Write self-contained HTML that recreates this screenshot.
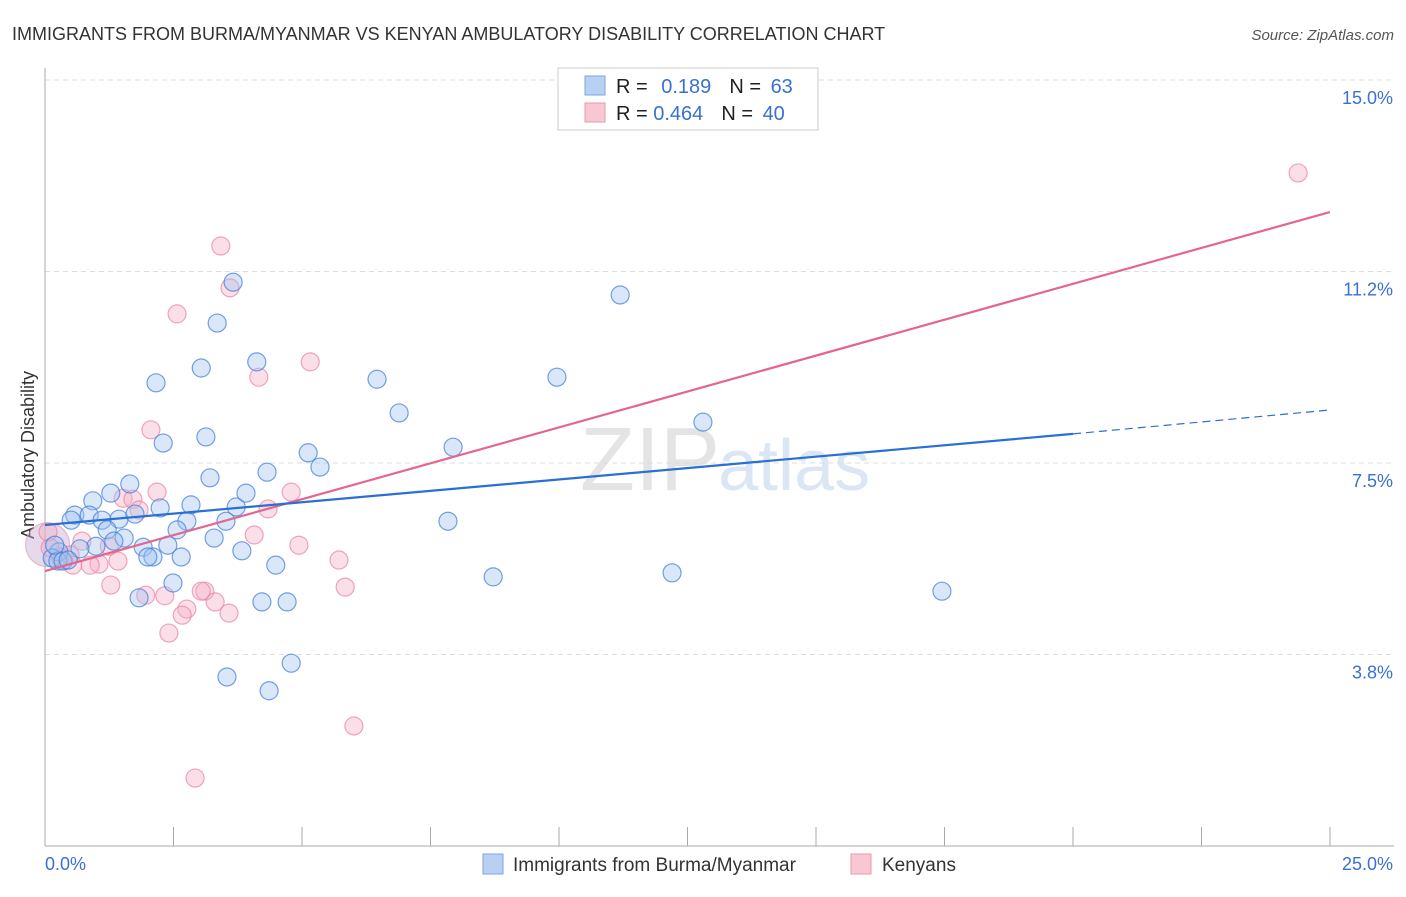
<!DOCTYPE html>
<html><head><meta charset="utf-8"><style>
body{margin:0;background:#fff;font-family:"Liberation Sans",sans-serif;}
svg text{font-family:"Liberation Sans",sans-serif;}
</style></head><body>
<svg id="chart" width="1406" height="892" xmlns="http://www.w3.org/2000/svg">
<text x="12" y="40" font-size="18" fill="#333">IMMIGRANTS FROM BURMA/MYANMAR VS KENYAN AMBULATORY DISABILITY CORRELATION CHART</text>
<text x="1394" y="40" font-size="15" fill="#555" font-style="italic" text-anchor="end">Source: ZipAtlas.com</text>
<text x="720" y="490" font-size="90" fill="#e4e4e4" text-anchor="end" font-family="Liberation Serif">ZIP</text>
<text x="718" y="490" font-size="72" fill="#dbe6f5">atlas</text>
<text transform="translate(34,455) rotate(-90)" font-size="18" fill="#333" text-anchor="middle">Ambulatory Disability</text>
<g id="grid"></g><g id="axes"></g><g id="pts"></g><g id="lines"></g>
<g>
<rect x="558" y="68" width="260" height="62" fill="#fff" stroke="#ccc"/>
<rect x="585" y="76" width="20" height="19" fill="#b8d1f3" stroke="#7ea6e0"/>
<rect x="585" y="103" width="20" height="19" fill="#f9c6d4" stroke="#e899b2"/>
<text x="616" y="93" font-size="20" fill="#222">R = <tspan fill="#3a70d4" dx="8">0.189</tspan><tspan fill="#222" dx="18">N = </tspan><tspan fill="#3a70d4" dx="4">63</tspan></text>
<text x="616" y="120" font-size="20" fill="#222">R = <tspan fill="#3a70d4">0.464</tspan><tspan fill="#222" dx="18">N = </tspan><tspan fill="#3a70d4" dx="4">40</tspan></text>
</g>
<g>
<rect x="483" y="854" width="20" height="20" fill="#b8d1f3" stroke="#7ea6e0"/>
<text x="513" y="871" font-size="19" fill="#333">Immigrants from Burma/Myanmar</text>
<rect x="851" y="854" width="20" height="20" fill="#f9c6d4" stroke="#e899b2"/>
<text x="882" y="871" font-size="19" fill="#333">Kenyans</text>
</g>
</svg>
<script>
const xTicks=[0,2.5,5,7.5,10,12.5,15,17.5,20,22.5,25];
const yTicks=[3.75,7.5,11.25,15];
const yTickLabels=["3.8%","7.5%","11.2%","15.0%"];
const blueX=[3.66,11.19,3.35,4.12,3.04,6.46,2.16,9.96,6.89,3.13,2.30,7.94,12.80,5.12,5.35,4.32,3.21,1.65,1.28,0.93,3.72,3.91,2.84,2.24,0.58,0.86,1.11,1.44,1.75,0.51,3.52,2.76,7.84,2.57,1.21,3.29,1.54,1.34,0.99,0.68,1.91,3.83,2.39,2.10,2.00,2.65,0.27,0.14,0.25,0.35,4.49,8.72,12.20,2.49,1.83,4.22,4.71,17.45,4.79,3.54,4.36,0.19,0.45];
const blueY=[11.04,10.79,10.24,9.48,9.36,9.14,9.07,9.18,8.48,8.01,7.89,7.81,8.30,7.70,7.42,7.32,7.21,7.09,6.91,6.76,6.64,6.91,6.68,6.62,6.48,6.48,6.38,6.40,6.50,6.38,6.36,6.36,6.36,6.19,6.19,6.03,6.03,5.97,5.87,5.82,5.85,5.78,5.89,5.66,5.66,5.66,5.76,5.64,5.58,5.58,5.50,5.27,5.35,5.15,4.86,4.78,4.78,4.99,3.58,3.31,3.04,5.89,5.60];
const pinkX=[24.38,3.42,3.60,2.57,5.16,4.16,2.06,2.18,4.79,1.52,1.71,1.83,4.34,4.07,0.72,4.94,1.25,5.72,1.42,1.05,0.54,0.88,0.37,0.06,1.28,5.84,1.96,2.33,3.11,3.04,3.31,2.76,2.67,3.58,2.41,6.01,2.92,0.29,0.10,0.49];
const pinkY=[13.18,11.75,10.93,10.42,9.48,9.18,8.15,6.93,6.93,6.81,6.79,6.58,6.60,6.09,5.97,5.89,5.87,5.60,5.58,5.52,5.50,5.50,5.60,6.15,5.11,5.07,4.91,4.90,4.99,4.99,4.78,4.64,4.52,4.56,4.17,2.35,1.33,5.66,5.84,5.70];
const blueLine=[[0,6.286],[20,8.07],[25,8.538]];
const pinkLine=[[0,5.385],[25,12.415]];
const NS="http://www.w3.org/2000/svg";
const X=v=>45+v/25*1285, Y=v=>846-v/15*766;
function mk(t,a,p){const e=document.createElementNS(NS,t);for(const k in a)e.setAttribute(k,a[k]);p.appendChild(e);return e;}
const grid=document.getElementById('grid'),axes=document.getElementById('axes'),pts=document.getElementById('pts'),lines=document.getElementById('lines');
yTicks.forEach((t,i)=>{
 const l=mk('line',{x1:45,x2:1394,y1:Y(t),y2:Y(t),stroke:'#ddd','stroke-dasharray':'5,4'},grid);
 
 
 const tx=mk('text',{x:1393,y:Y(t)+24,'font-size':18,fill:'#3a70d4','text-anchor':'end'},axes);
 tx.textContent=yTickLabels[i];
 
 
});
mk('line',{x1:45,x2:45,y1:68,y2:846,stroke:'#aaa'},axes);
mk('line',{x1:45,x2:1394,y1:846,y2:846,stroke:'#aaa'},axes);
xTicks.forEach(t=>{const l=mk('line',{x1:X(t),x2:X(t),y1:827,y2:846,stroke:'#aaa'},axes);
 
 });
const x0=mk('text',{x:45,y:870,'font-size':18,fill:'#3a70d4'},axes);x0.textContent='0.0%';


const x1=mk('text',{x:1393,y:870,'font-size':18,fill:'#3a70d4','text-anchor':'end'},axes);x1.textContent='25.0%';


const big=mk('circle',{cx:X(0.05),cy:Y(5.9),r:22,fill:'rgba(200,170,210,0.45)',stroke:'rgba(220,140,170,0.6)'},pts);


pinkX.forEach((v,i)=>{const c=mk('circle',{cx:X(v),cy:Y(pinkY[i]),r:9,fill:'rgba(246,176,198,0.4)',stroke:'rgba(232,130,162,0.7)','stroke-width':1.2},pts);
 
 });
blueX.forEach((v,i)=>{const c=mk('circle',{cx:X(v),cy:Y(blueY[i]),r:9,fill:'rgba(160,195,240,0.4)',stroke:'rgba(70,130,220,0.75)','stroke-width':1.2},pts);
 
 });
const pl=mk('line',{x1:X(pinkLine[0][0]),y1:Y(pinkLine[0][1]),x2:X(pinkLine[1][0]),y2:Y(pinkLine[1][1]),stroke:'#e46590','stroke-width':2.2},lines);


const bl=mk('line',{x1:X(blueLine[0][0]),y1:Y(blueLine[0][1]),x2:X(blueLine[1][0]),y2:Y(blueLine[1][1]),stroke:'#2a6fd4','stroke-width':2.2},lines);


const bd=mk('line',{x1:X(blueLine[1][0]),y1:Y(blueLine[1][1]),x2:X(blueLine[2][0]),y2:Y(blueLine[2][1]),stroke:'#2a6fd4','stroke-width':1.2,'stroke-dasharray':'8,5'},lines);


</script>
</body></html>
